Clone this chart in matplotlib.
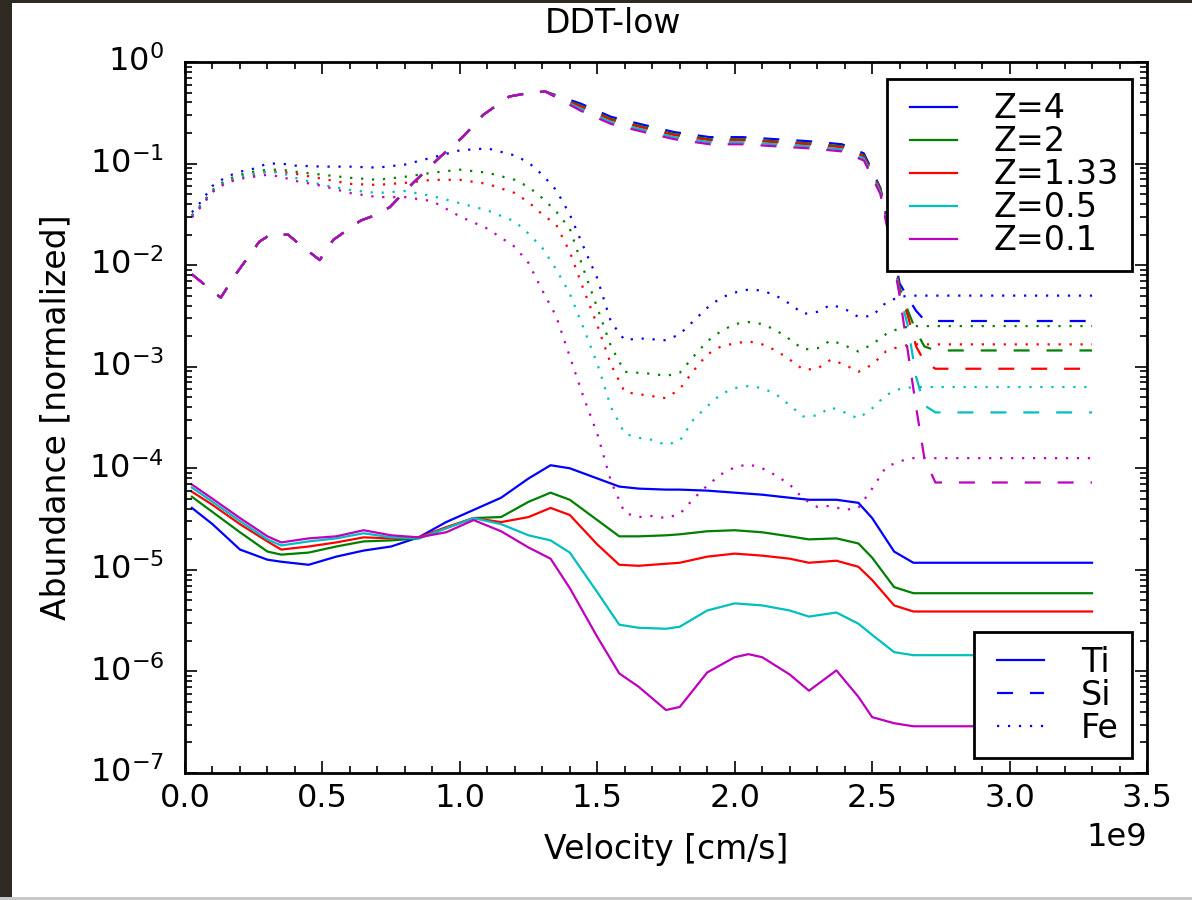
import matplotlib
matplotlib.use('Agg')
import matplotlib.pyplot as plt
from matplotlib.patches import Rectangle
from matplotlib.lines import Line2D
from matplotlib.ticker import MultipleLocator, LogLocator

# velocity in units of 1e9 cm/s, abundances stored as log10 values
z_labels = ['Z=4', 'Z=2', 'Z=1.33', 'Z=0.5', 'Z=0.1']
z_colors = ['b', 'g', 'r', 'c', 'm']

# Ti (solid)
v_ti = [0.025, 0.1, 0.2, 0.3, 0.35, 0.45, 0.55, 0.65, 0.75, 0.85, 0.95, 1.05, 1.15, 1.25,
        1.33, 1.4, 1.5, 1.58, 1.65, 1.75, 1.8, 1.9, 2.0, 2.05, 2.1, 2.2, 2.27, 2.37, 2.45,
        2.5, 2.58, 2.65, 2.75, 3.3]
ti_z4 = [-4.39, -4.55, -4.80, -4.90, -4.92, -4.95, -4.87, -4.81, -4.77, -4.68, -4.53, -4.41,
         -4.29, -4.10, -3.97, -4.00, -4.10, -4.18, -4.20, -4.21, -4.21, -4.22, -4.24, -4.25,
         -4.26, -4.29, -4.31, -4.31, -4.34, -4.49, -4.82, -4.93, -4.93, -4.93]
ti_z2 = [-4.28, -4.43, -4.63, -4.82, -4.85, -4.83, -4.77, -4.72, -4.71, -4.69, -4.59, -4.49,
         -4.48, -4.33, -4.24, -4.31, -4.51, -4.67, -4.67, -4.66, -4.65, -4.62, -4.61, -4.62,
         -4.63, -4.67, -4.70, -4.69, -4.74, -4.88, -5.17, -5.23, -5.23, -5.23]
ti_z133 = [-4.23, -4.36, -4.55, -4.72, -4.80, -4.77, -4.73, -4.68, -4.69, -4.68, -4.58, -4.49,
           -4.53, -4.48, -4.39, -4.46, -4.75, -4.95, -4.96, -4.94, -4.93, -4.87, -4.84, -4.85,
           -4.86, -4.89, -4.93, -4.91, -4.97, -5.10, -5.35, -5.41, -5.41, -5.41]
ti_z05 = [-4.19, -4.33, -4.52, -4.70, -4.76, -4.72, -4.69, -4.64, -4.68, -4.69, -4.59, -4.49,
          -4.55, -4.66, -4.71, -4.83, -5.22, -5.54, -5.57, -5.58, -5.56, -5.40, -5.33, -5.34,
          -5.35, -5.40, -5.46, -5.42, -5.53, -5.64, -5.81, -5.84, -5.84, -5.84]
ti_z01 = [-4.16, -4.30, -4.49, -4.67, -4.73, -4.69, -4.67, -4.61, -4.66, -4.68, -4.63, -4.51,
          -4.62, -4.78, -4.89, -5.18, -5.66, -6.02, -6.15, -6.38, -6.35, -6.01, -5.86, -5.83,
          -5.86, -6.03, -6.19, -5.99, -6.25, -6.45, -6.51, -6.54, -6.54, -6.54]

# Si (dashed)
v_si = [0.025, 0.13, 0.19, 0.27, 0.31, 0.375, 0.41, 0.49, 0.54, 0.64, 0.68, 0.745, 0.83, 0.93,
        1.01, 1.085, 1.18, 1.24, 1.31, 1.44, 1.55, 1.67, 1.78, 1.91, 2.03, 2.15, 2.27, 2.39,
        2.47, 2.53, 2.56, 2.60, 2.63, 2.66, 2.69, 2.73, 3.3]
si_early = [-2.09, -2.32, -2.07, -1.77, -1.70, -1.70, -1.78, -1.95, -1.75, -1.56, -1.52, -1.43,
            -1.19, -0.93, -0.74, -0.52, -0.34, -0.31, -0.29]
si_z4 = si_early + [-0.41, -0.54, -0.62, -0.69, -0.74, -0.74, -0.76, -0.78, -0.81, -0.90,
                    -1.24, -1.62, -2.18, -2.32, -2.45, -2.54, -2.55, -2.55]
si_z2 = si_early + [-0.43, -0.56, -0.64, -0.71, -0.76, -0.76, -0.78, -0.80, -0.83, -0.92,
                    -1.25, -1.64, -2.22, -2.45, -2.65, -2.80, -2.84, -2.84]
si_z133 = si_early + [-0.44, -0.57, -0.65, -0.72, -0.77, -0.77, -0.79, -0.81, -0.84, -0.93,
                      -1.26, -1.65, -2.25, -2.50, -2.80, -2.95, -3.02, -3.02]
si_z05 = si_early + [-0.46, -0.59, -0.67, -0.74, -0.79, -0.79, -0.81, -0.83, -0.86, -0.95,
                     -1.28, -1.67, -2.28, -2.60, -3.10, -3.38, -3.45, -3.45]
si_z01 = si_early + [-0.48, -0.61, -0.69, -0.76, -0.81, -0.81, -0.83, -0.85, -0.88, -0.97,
                     -1.30, -1.70, -2.30, -2.85, -3.40, -3.90, -4.14, -4.14]

# Fe (dotted)
v_fe = [0.025, 0.06, 0.1, 0.15, 0.2, 0.25, 0.3, 0.35, 0.4, 0.5, 0.6, 0.7, 0.8, 0.9, 1.0, 1.1,
        1.2, 1.25, 1.3, 1.35, 1.4, 1.45, 1.5, 1.55, 1.6, 1.65, 1.7, 1.75, 1.8, 1.85, 1.9, 1.95,
        2.0, 2.05, 2.1, 2.15, 2.2, 2.25, 2.3, 2.35, 2.4, 2.45, 2.5, 2.55, 2.6, 2.65, 3.3]
fe_z4 = [-1.48, -1.37, -1.22, -1.13, -1.08, -1.05, -1.00, -1.00, -1.02, -1.03, -1.03, -1.04,
         -1.01, -0.94, -0.87, -0.85, -0.92, -0.99, -1.11, -1.26, -1.50, -1.82, -2.13, -2.56,
         -2.74, -2.72, -2.73, -2.74, -2.68, -2.55, -2.42, -2.32, -2.27, -2.24, -2.25, -2.30,
         -2.38, -2.48, -2.46, -2.39, -2.43, -2.51, -2.50, -2.37, -2.31, -2.30, -2.30]
fe_z2 = [-1.51, -1.40, -1.26, -1.16, -1.11, -1.08, -1.06, -1.06, -1.08, -1.11, -1.14, -1.16,
         -1.13, -1.09, -1.06, -1.09, -1.16, -1.23, -1.34, -1.47, -1.64, -2.04, -2.42, -2.80,
         -3.05, -3.06, -3.07, -3.09, -3.06, -2.90, -2.75, -2.65, -2.58, -2.56, -2.58, -2.64,
         -2.73, -2.83, -2.82, -2.74, -2.79, -2.85, -2.78, -2.68, -2.62, -2.60, -2.60]
fe_z133 = [-1.52, -1.41, -1.27, -1.18, -1.13, -1.11, -1.08, -1.08, -1.10, -1.15, -1.20, -1.21,
           -1.19, -1.16, -1.16, -1.20, -1.29, -1.38, -1.50, -1.60, -1.87, -2.24, -2.59, -2.98,
           -3.25, -3.27, -3.29, -3.31, -3.22, -3.04, -2.88, -2.80, -2.77, -2.75, -2.78, -2.84,
           -2.93, -3.03, -3.02, -2.93, -2.98, -3.05, -2.98, -2.85, -2.80, -2.78, -2.78]
fe_z05 = [-1.52, -1.41, -1.27, -1.18, -1.13, -1.10, -1.08, -1.09, -1.14, -1.21, -1.26, -1.29,
          -1.27, -1.32, -1.39, -1.46, -1.57, -1.69, -1.83, -2.04, -2.28, -2.62, -2.97, -3.40,
          -3.66, -3.70, -3.72, -3.77, -3.73, -3.52, -3.39, -3.27, -3.21, -3.19, -3.21, -3.27,
          -3.38, -3.49, -3.48, -3.40, -3.45, -3.51, -3.41, -3.28, -3.22, -3.20, -3.20]
fe_z01 = [-1.53, -1.42, -1.28, -1.19, -1.15, -1.13, -1.11, -1.13, -1.17, -1.22, -1.29, -1.33,
          -1.33, -1.37, -1.52, -1.64, -1.82, -1.98, -2.25, -2.50, -2.90, -3.30, -3.66, -4.13,
          -4.44, -4.48, -4.47, -4.49, -4.45, -4.30, -4.17, -4.06, -3.99, -3.96, -4.00, -4.07,
          -4.16, -4.30, -4.38, -4.37, -4.41, -4.39, -4.20, -3.99, -3.93, -3.90, -3.90]

ti_sets = [ti_z4, ti_z2, ti_z133, ti_z05, ti_z01]
si_sets = [si_z4, si_z2, si_z133, si_z05, si_z01]
fe_sets = [fe_z4, fe_z2, fe_z133, fe_z05, fe_z01]

plt.style.use('classic')
plt.rcParams['lines.scale_dashes'] = False

DASH = (11.5, 12.2)
DOT = (1.6, 6.3)
LW = 1.6
FS = 23.8      # axis labels, ticks, title
LEG_FS = 24.0  # legend text

fig = plt.figure(figsize=(11.92, 9.0), dpi=100, facecolor='white')
ax = fig.add_axes([185/1192, 1 - 773/900, (1147 - 185)/1192, (773 - 62)/900])

ti_handles = []
for i in range(5):
    c = z_colors[i]
    h, = ax.plot([v*1e9 for v in v_ti], [10**y for y in ti_sets[i]], color=c, lw=LW,
                 label=z_labels[i])
    ti_handles.append(h)
    ax.plot([v*1e9 for v in v_si], [10**y for y in si_sets[i]], color=c, lw=LW,
            linestyle='--', dashes=DASH)
    ax.plot([v*1e9 for v in v_fe], [10**y for y in fe_sets[i]], color=c, lw=LW,
            linestyle=':', dashes=DOT)

ax.set_yscale('log')
ax.set_xlim(0, 3.5e9)
ax.set_ylim(1e-7, 1)
ax.xaxis.set_major_locator(MultipleLocator(0.5e9))
ax.xaxis.set_minor_locator(MultipleLocator(0.1e9))
ax.yaxis.set_major_locator(LogLocator(base=10, numticks=10))
ax.yaxis.set_minor_locator(LogLocator(base=10, subs=range(2, 10), numticks=20))

for sp in ax.spines.values():
    sp.set_linewidth(2.0)
ax.tick_params(which='both', direction='in', top=True, right=True, width=1.2)
ax.tick_params(which='major', length=8.5, labelsize=FS - 0.8)
ax.tick_params(which='minor', length=5)
ax.tick_params(axis='x', which='major', pad=7)
ax.tick_params(axis='y', which='major', pad=15)
ax.xaxis.get_offset_text().set_fontsize(FS - 0.8)
ax.xaxis.OFFSETTEXTPAD = 6

ax.set_xlabel('Velocity [cm/s]', fontsize=FS)
ax.set_ylabel('Abundance [normalized]', fontsize=FS)
ax.xaxis.set_label_coords(0.5, -0.085)
ax.yaxis.set_label_coords(-0.117, 0.5)

fig.text(613/1192, 1 - 33/900, 'DDT-low', fontsize=FS, ha='center', va='baseline')

leg_kw = dict(borderaxespad=0, fontsize=LEG_FS, numpoints=2, labelspacing=0.0,
              handlelength=2.0, handletextpad=0.8, borderpad=0.4, fancybox=False)
leg1 = ax.legend(handles=ti_handles, loc='upper right',
                 bbox_to_anchor=((1132 - 185)/962, 1 - (79 - 62)/711), **leg_kw)
leg1.get_frame().set_linewidth(2.0)
ax.add_artist(leg1)

el_handles = [Line2D([], [], color='b', lw=LW),
              Line2D([], [], color='b', lw=LW, linestyle='--', dashes=DASH),
              Line2D([], [], color='b', lw=LW, linestyle=':', dashes=DOT)]
leg2 = ax.legend(handles=el_handles, labels=['Ti', 'Si', 'Fe'], loc='lower right',
                 bbox_to_anchor=((1132 - 185)/962, (773 - 758)/711), **leg_kw)
leg2.get_frame().set_linewidth(2.0)

# dark screenshot border on the left and top, grey line at bottom
fig.patches.append(Rectangle((0, 0), 12/1192, 1, transform=fig.transFigure,
                             facecolor='#2e2a22', edgecolor='none', zorder=10))
fig.patches.append(Rectangle((0, 1 - 3/900), 1, 3/900, transform=fig.transFigure,
                             facecolor='#2e2a22', edgecolor='none', zorder=10))
fig.patches.append(Rectangle((0, 0), 1, 3/900, transform=fig.transFigure,
                             facecolor='#c8c8c8', edgecolor='none', zorder=10))

fig.savefig('out.png', dpi=100, facecolor='white')
